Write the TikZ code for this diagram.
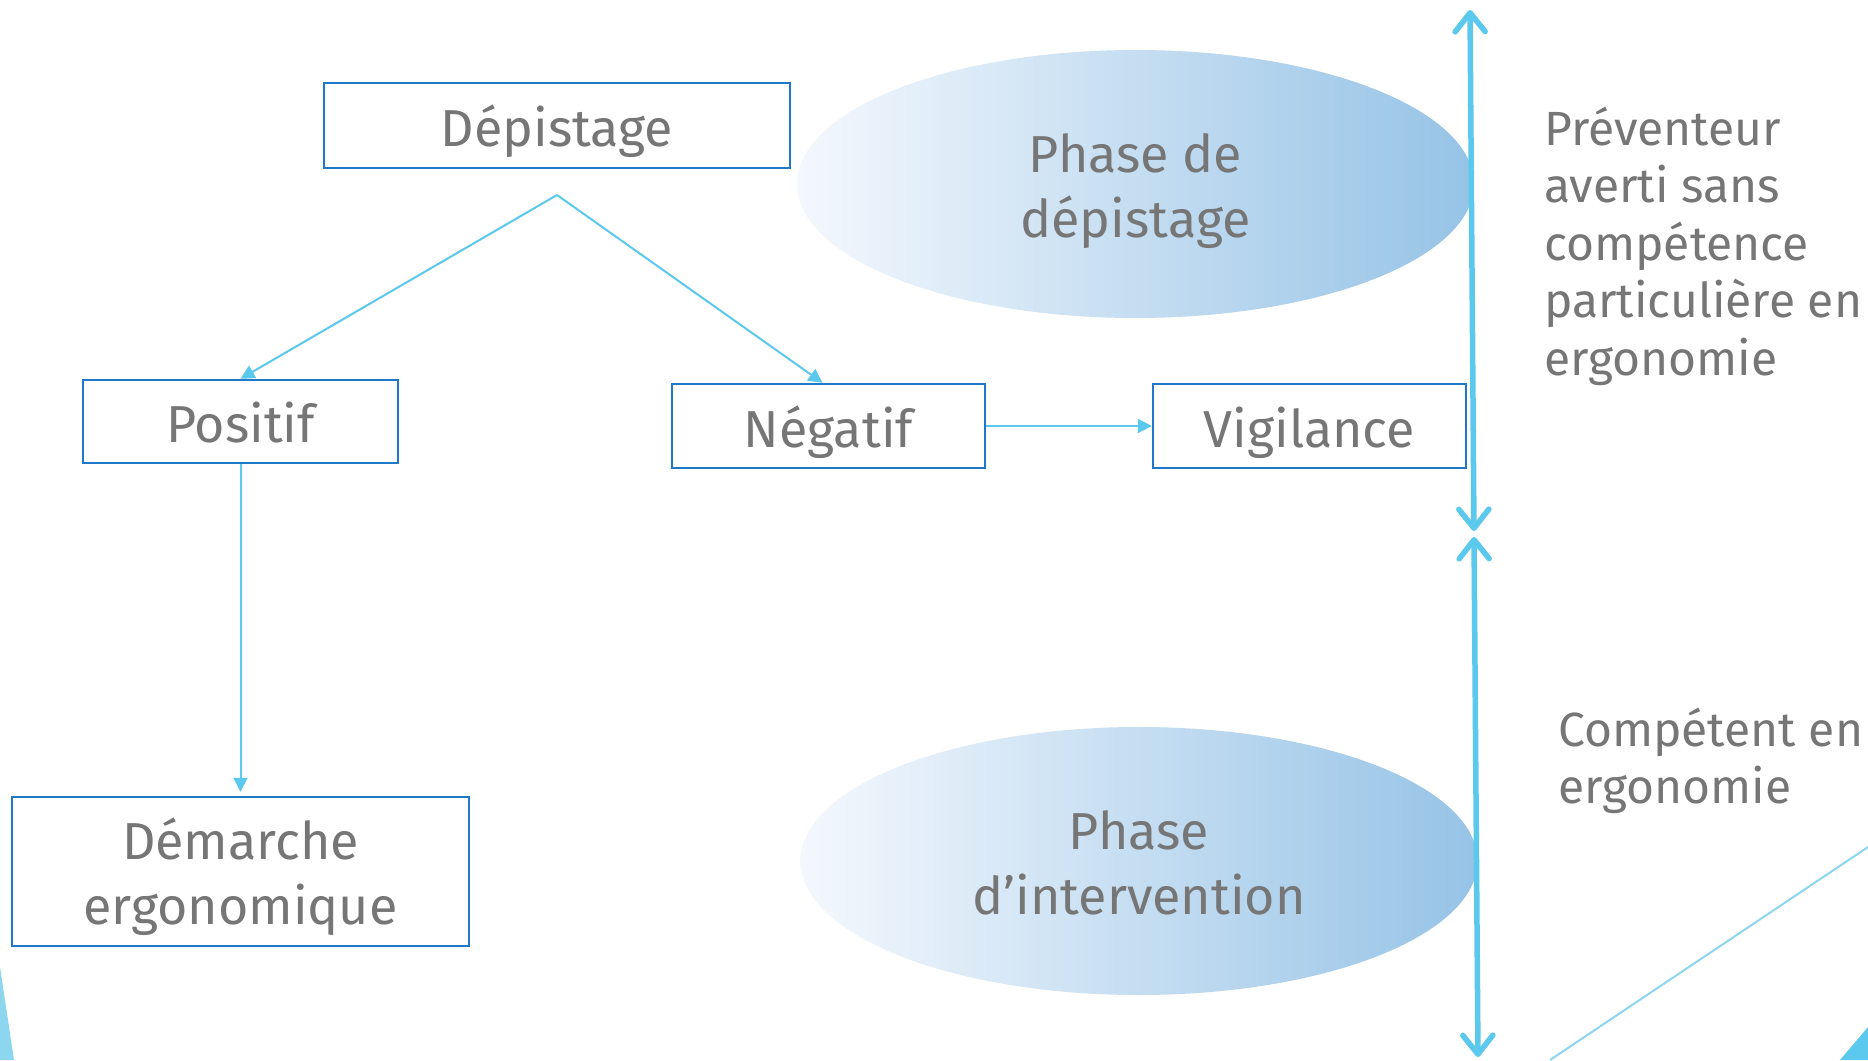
\documentclass[tikz,border=0pt]{standalone}
\usepackage{fontspec}
\setmainfont{Fira Sans}
\usetikzlibrary{arrows.meta,shapes.geometric,positioning,calc}
\definecolor{boxblue}{HTML}{1F78C8}
\definecolor{conn}{HTML}{5BC8EE}
\definecolor{txt}{HTML}{767676}
\definecolor{ellL}{HTML}{F4F8FD}
\definecolor{ellR}{HTML}{96C3E6}
\definecolor{lineblue}{HTML}{8DD6F0}
\begin{document}
\begin{tikzpicture}[x=1pt,y=-1pt,
  box/.style={draw=boxblue, line width=2.4pt, fill=white, text=txt, align=center,
    font=\fontsize{52}{65}\selectfont, inner sep=0pt, text height=42pt, text depth=0pt},
  box2/.style={box, text height=105pt, text depth=0pt},
  phase/.style={ellipse, draw=none, left color=ellL, right color=ellR, text=txt, align=center,
    minimum width=677pt, minimum height=268pt, inner sep=0pt,
    font=\fontsize{52}{65}\selectfont, text height=107pt, text depth=0pt},
  side/.style={text=txt, align=left, anchor=north west, inner sep=0pt,
    font=\fontsize{48}{57.5}\selectfont},
  link/.style={draw=conn, line width=2pt, -{Triangle[length=14pt,width=14pt]}},
  bigarrow/.style={draw=conn, line width=5.5pt, line cap=round,
    {Straight Barb[length=19pt,width=30pt,round]}-{Straight Barb[length=19pt,width=30pt,round]}}
]
\useasboundingbox (0,0) rectangle (1868,1060);
\fill[white] (0,0) rectangle (1868,1060);

% ellipses
\node[phase] (ph1) at (1135.5,184) {Phase de\\dépistage};
\node[phase] (ph2) at (1139,861) {Phase\\d’intervention};

% boxes
\node[box, minimum width=466pt, minimum height=85pt] (dep) at (557,125.5) {Dépistage};
\node[box, minimum width=315pt, minimum height=83pt] (pos) at (240.5,421.5) {Positif};
\node[box, minimum width=313pt, minimum height=84pt] (neg) at (828.5,426) {Négatif};
\node[box, minimum width=313pt, minimum height=84pt] (vig) at (1309.5,426) {Vigilance};
\node[box2, minimum width=457pt, minimum height=149pt] (dem) at (240.5,871.5) {Démarche\\ergonomique};

% connectors
\coordinate (split) at (557,195);
\draw[link] (split) -- (pos.north);
\draw[link] (split) -- ($(neg.north)+(-6,0)$);
\draw[link, shorten >=4pt] (pos.south) -- (dem.north);
\draw[link] (neg.east) -- (vig.west);

% double arrows
\coordinate (a1) at (1470,10);
\coordinate (a2) at (1474,531);
\coordinate (a3) at (1474,537);
\coordinate (a4) at (1478,1057);
\draw[bigarrow] (a1) -- (a2);
\draw[bigarrow] (a3) -- (a4);

% side texts
\node[side, text height=264pt] (t1) at (1544,111) {Préventeur\\averti sans\\compétence\\particulière en\\ergonomie};
\node[side, text height=91.5pt] (t2) at (1558,712) {Compétent en\\ergonomie};

% decorative shapes
\coordinate (l1) at (1550,1060);
\coordinate (l2) at (1868,847);
\draw[lineblue, line width=2pt] (l1) -- (l2);
\fill[conn] (1840,1060) -- (1868,1027) -- (1868,1060) -- cycle;
\fill[lineblue] (0,967) -- (14,1060) -- (0,1060) -- cycle;
\end{tikzpicture}
\end{document}
